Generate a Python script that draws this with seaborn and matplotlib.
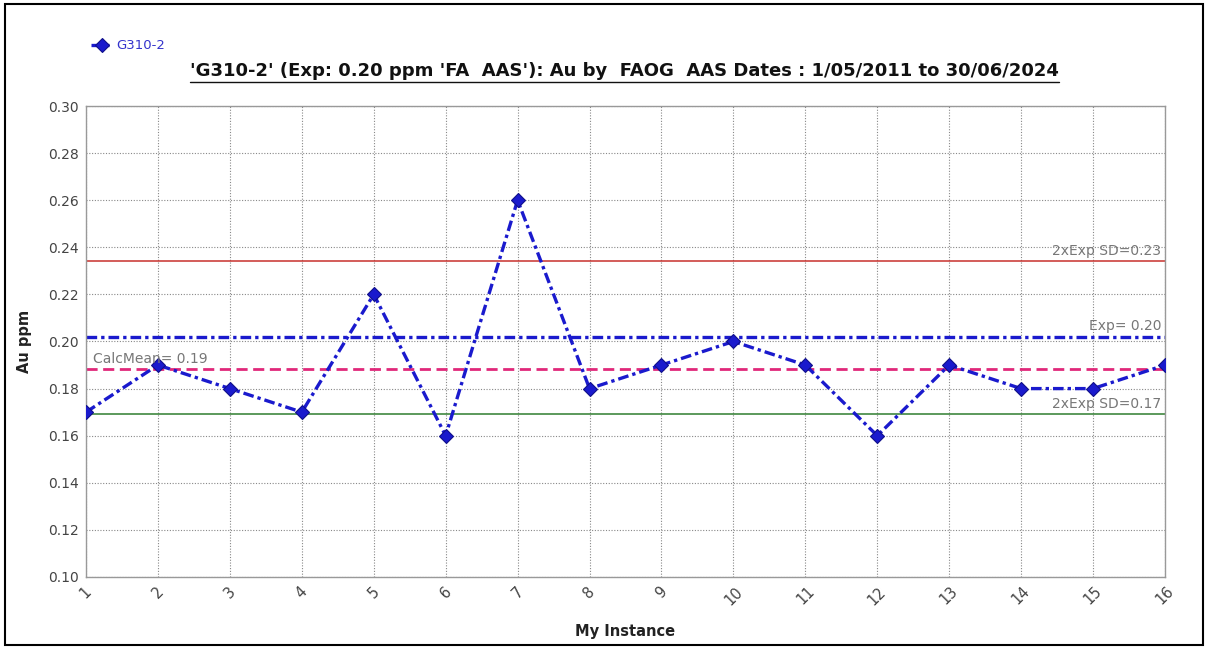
import matplotlib
matplotlib.use("Agg")
import matplotlib.pyplot as plt
import seaborn as sns
import pandas as pd
from matplotlib.patches import Rectangle

# Control-chart data for standard G310-2
instances = list(range(1, 17))
au_ppm = [0.17, 0.19, 0.18, 0.17, 0.22, 0.16, 0.26, 0.18,
          0.19, 0.20, 0.19, 0.16, 0.19, 0.18, 0.18, 0.19]
expected = 0.202
upper_2sd = 0.234
lower_2sd = 0.169
calc_mean = sum(au_ppm) / len(au_ppm)
y_ticks = [0.10, 0.12, 0.14, 0.16, 0.18, 0.20, 0.22, 0.24, 0.26, 0.28, 0.30]

df = pd.DataFrame({"My Instance": instances, "Au ppm": au_ppm})

sns.set_style("white")
plt.rcParams["font.family"] = ["DejaVu Sans"]

fig = plt.figure(figsize=(12.08, 6.48), dpi=100)
ax = fig.add_axes([0.0712, 0.1096, 0.8932, 0.7268])

blue = "#1a1acd"
dashdot = (0, (3.2, 1.2, 1.0, 1.2))

# Reference lines
ax.axhline(upper_2sd, color="#c8302c", lw=1.1, zorder=2)
ax.axhline(lower_2sd, color="#2f7d2f", lw=1.1, zorder=2)
ax.axhline(expected, color=blue, lw=2.4, linestyle=dashdot, zorder=2)
ax.axhline(calc_mean, color="#e0287a", lw=2.0, linestyle=(0, (4, 2)), zorder=2)

sns.lineplot(data=df, x="My Instance", y="Au ppm", ax=ax, color=blue,
             linewidth=2.4, linestyle=dashdot, marker="D", markersize=7,
             markeredgecolor="#10108a", markeredgewidth=0.8,
             label="G310-2", zorder=4)

ax.set_xlim(1, 16)
ax.set_ylim(0.10, 0.30)
ax.set_xticks(instances)
ax.set_xticklabels([str(i) for i in instances], rotation=45, ha="center",
                   fontsize=10.5, color="#444444")
ax.set_yticks(y_ticks)
ax.set_yticklabels([f"{v:.2f}" for v in y_ticks], fontsize=10, color="#444444")
ax.tick_params(axis="both", length=0, pad=5)

ax.grid(True, color="#888888", linestyle=(0, (1, 1.5)), linewidth=0.8)
for s in ax.spines.values():
    s.set_color("#999999")
    s.set_linewidth(1.0)

ax.set_xlabel("My Instance", fontsize=10.5, fontweight="bold", color="#222222",
              labelpad=12)
ax.set_ylabel("Au ppm", fontsize=10.5, fontweight="bold", color="#222222",
              labelpad=12)

# Line annotations
lab_kw = dict(fontsize=10, color="#777777", ha="right", va="bottom", zorder=5)
ax.text(15.95, upper_2sd + 0.0015, f"2xExp SD={upper_2sd:.2f}", **lab_kw)
ax.text(15.95, expected + 0.0015, f"Exp= {expected:.2f}", **lab_kw)
ax.text(15.95, lower_2sd + 0.0015, f"2xExp SD={lower_2sd:.2f}", **lab_kw)
ax.text(1.1, calc_mean + 0.0015, f"CalcMean= {calc_mean:.2f}",
        fontsize=10, color="#777777", ha="left", va="bottom", zorder=5)

# Title with underline
fig.text(0.517, 0.883,
         "'G310-2' (Exp: 0.20 ppm 'FA  AAS'): Au by  FAOG  AAS Dates : 1/05/2011 to 30/06/2024",
         ha="center", va="baseline", fontsize=13, fontweight="bold",
         color="#111111")
fig.canvas.draw()
title_txt = fig.texts[-1]
bb = title_txt.get_window_extent().transformed(fig.transFigure.inverted())
fig.add_artist(plt.Line2D([bb.x0, bb.x1], [bb.y0 - 0.004, bb.y0 - 0.004],
                          transform=fig.transFigure, color="#111111", lw=1.0))

# Legend above the plot, top left
leg = ax.legend(loc="lower left", bbox_to_anchor=(0.0, 1.103), frameon=False,
                fontsize=9.5, handlelength=1.6, handletextpad=0.3,
                borderaxespad=0)
for t in leg.get_texts():
    t.set_color("#3333cc")

# Outer figure frame
fig.add_artist(Rectangle((0.004, 0.004), 0.992, 0.99, transform=fig.transFigure,
                         fill=False, edgecolor="black", lw=1.5))

fig.savefig("out.png", dpi=100, facecolor="white")
